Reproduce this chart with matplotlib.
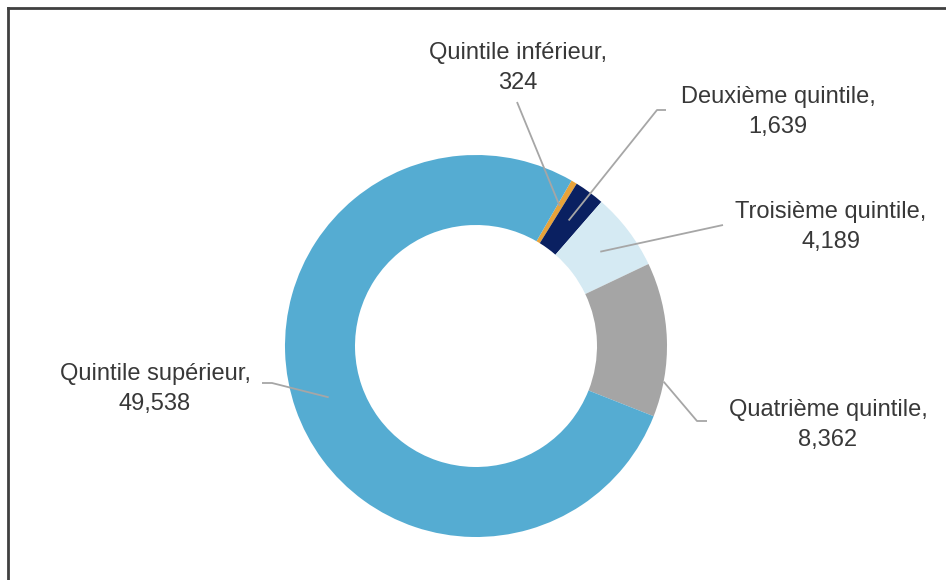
import numpy as np
import matplotlib
matplotlib.use("Agg")
from matplotlib import pyplot as plt

# data
labels = ["Quintile inférieur", "Deuxième quintile", "Troisième quintile",
          "Quatrième quintile", "Quintile supérieur"]
values = [324, 1639, 4189, 8362, 49538]
colors = ["#E8A33A", "#0A2061", "#D5EAF3", "#A5A5A5", "#55ACD2"]

W, H = 946, 580
cx, cy = 476, 346
R, R_in = 191, 121

# label layout: text centre, anchor (angle frac, radial frac), elbow/end points
text_pos = [(518, 68), (778, 112), (831, 227), (828, 425), (155, 389)]
anchor = [(0.5, 0.6), (0.5, 0.5), (0.5, 0.5), (0.77, 1.0), (0.5, 0.5)]
leader = [[(517, 102)],
          [(657, 110), (666, 110)],
          [(723, 225)],
          [(697, 421), (707, 421)],
          [(272, 383), (262, 383)]]

plt.rcParams['font.family'] = ['Liberation Sans', 'DejaVu Sans']
fig = plt.figure(figsize=(W/100, H/100), dpi=100)
ax = fig.add_axes([0, 0, 1, 1])

# y axis is inverted (pixel space), so counterclock in data = clockwise on screen
wedges, _ = ax.pie(values, colors=colors, startangle=-60, counterclock=True,
                   center=(cx, cy), radius=R,
                   wedgeprops=dict(width=R - R_in, linewidth=0))
ax.set_xlim(0, W)
ax.set_ylim(H, 0)
ax.set_aspect('equal')
ax.axis('off')

for w, lab, v, tp, (f, g), pts in zip(wedges, labels, values, text_pos, anchor, leader):
    th = np.deg2rad(w.theta1 + f*(w.theta2 - w.theta1))
    r = R_in + g*(R - R_in)
    x0, y0 = cx + r*np.cos(th), cy + r*np.sin(th)
    xs = [x0] + [p[0] for p in pts]
    ys = [y0] + [p[1] for p in pts]
    ax.plot(xs, ys, color="#A6A6A6", lw=1.3, solid_capstyle='butt')
    ax.text(tp[0], tp[1], "{},\n{:,}".format(lab, v), ha="center", va="center",
            fontsize=17, color="#383838", linespacing=1.48)

# chart frame (only top and left edges are visible)
ax.plot([8, 8], [H, 8], color="#404040", lw=2, clip_on=False)
ax.plot([8, W], [8, 8], color="#404040", lw=2, clip_on=False)

fig.savefig("out.png", dpi=100)
